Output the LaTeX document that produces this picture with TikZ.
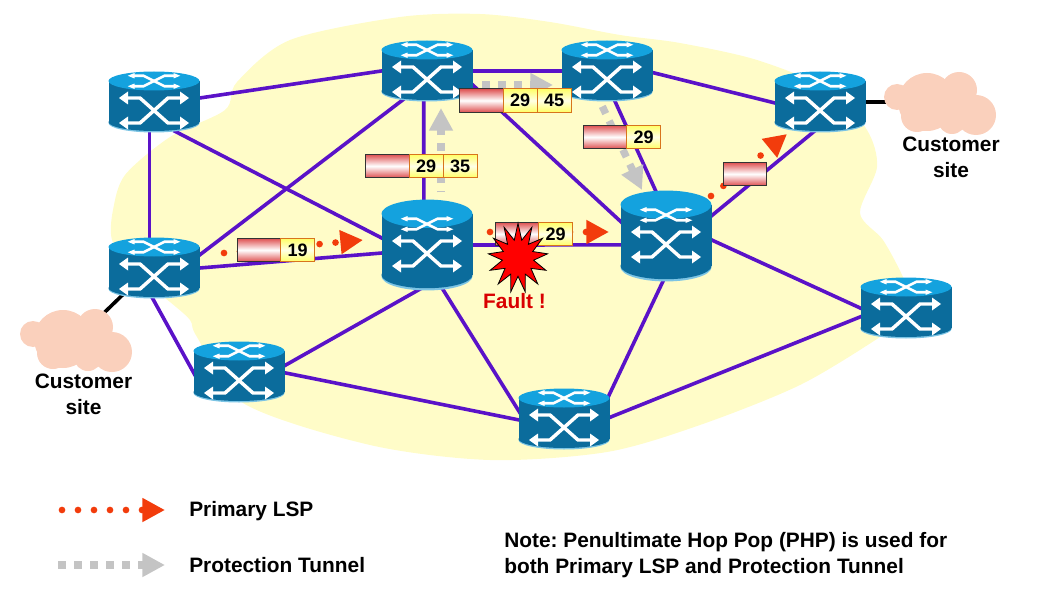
\documentclass[tikz,border=0pt]{standalone}
\usepackage{fontspec}
\setmainfont{Liberation Sans}
\usetikzlibrary{positioning, arrows.meta, shapes.geometric}

\definecolor{sitebg}{HTML}{FFFCC8}
\definecolor{linkpurple}{HTML}{5A12C8}
\definecolor{routerside}{HTML}{0B6C9C}
\definecolor{routertop}{HTML}{14A2DE}
\definecolor{routerrim}{HTML}{7CC4E4}
\definecolor{lspred}{HTML}{F23C0C}
\definecolor{tunnelgrey}{HTML}{C4C4C4}
\definecolor{cloudpink}{HTML}{FAD0BC}
\definecolor{labelred}{HTML}{DE5050}
\definecolor{labeledge}{HTML}{D8741C}

\tikzset{
    xglyph/.pic={
        \foreach \sx in {1,-1} {
            \begin{scope}[xscale=\sx]
                \draw[white] (-28,-12.5) -- (-14,-12.5) -- (14,12.5) -- (28,12.5);
                \fill[white] (-35,-12.5) -- (-26,-19) -- (-26,-6) -- cycle;
                \fill[white] (35,12.5) -- (26,6) -- (26,19) -- cycle;
            \end{scope}
        }
    },
    router/.pic={
        \fill[routerrim] (0,21) ellipse [x radius=45.5, y radius=9.5];
        \fill[routerside] (0,20) ellipse [x radius=45.5, y radius=9];
        \fill[routerside] (-45.5,-21) rectangle (45.5,20);
        \fill[routertop] (0,-21) ellipse [x radius=45.5, y radius=9.5];
        \pic[shift={(0,-21)}, xscale=.75, yscale=.42, line width=2pt] {xglyph};
        \pic[shift={(0,8.5)}, line width=2.6pt] {xglyph};
    },
    cloudblob/.pic={
        \fill[cloudpink] (-44,-5) circle (13) (-14,0) circle (29) (18,-12) circle (18)
            (35,13) circle (20) (11,18) circle (14) (-24,14) circle (16) (10,0) circle (20);
    }
}

\begin{document}
\begin{tikzpicture}[
    x=.75pt, y=-.75pt,
    font=\bfseries,
    routerbox/.style={rectangle, inner sep=0pt, minimum width=68.25pt, minimum height=46pt},
    routerbig/.style={routerbox, minimum height=68pt},
    cloudbox/.style={circle, inner sep=0pt, minimum size=10pt},
    link/.style={linkpurple, line width=2.7pt, shorten <=-4pt, shorten >=-4pt},
    sitelink/.style={black, line width=2.7pt, shorten <=-6pt},
    primary/.style={lspred, line width=5pt, line cap=round, dash pattern=on 0pt off 12pt, -{Triangle[length=17pt, width=17pt]}},
    tunnel/.style={tunnelgrey, line width=5.5pt, dash pattern=on 6pt off 6pt, -{Triangle[length=17pt, width=17pt]}},
    redbox/.style={rectangle, draw=black!80, line width=.8pt, inner sep=0pt, outer sep=0pt, minimum width=32.5pt, minimum height=17.5pt, top color=labelred, bottom color=labelred, middle color=white},
    yellowbox/.style={rectangle, draw=labeledge, line width=.8pt, inner sep=0pt, outer sep=0pt, minimum width=25.5pt, minimum height=17.5pt, top color=yellow!60, bottom color=yellow!60, middle color=yellow!10, font=\bfseries\fontsize{13.5}{15}\selectfont},
    caption/.style={font=\bfseries\fontsize{15.65}{19}\selectfont, inner sep=0pt}
]
\frenchspacing
\useasboundingbox (0,0) rectangle (1042,599);

% Background
\fill[sitebg] plot[smooth cycle, tension=.5] coordinates {
    (237,82) (290,40) (400,17) (480,14) (550,22) (620,35) (680,43) (757,60) (830,90)
    (867,130) (877,167) (860,213) (883,240) (903,277) (915,310) (880,337) (800,385) (700,425)
    (607,452) (490,460) (370,445) (243,403) (197,337) (190,320) (170,302) (130,270)
    (112,240) (113,210) (125,175) (170,137) (225,110)};

% Nodes
\node (RouterNW) [routerbox] at (154,102) {};
\node (RouterTopA) [routerbox] at (427,71) {};
\node (RouterTopB) [routerbox] at (607,71) {};
\node (RouterNE) [routerbox] at (820,102) {};
\node (RouterW) [routerbox] at (154,268) {};
\node (RouterMid) [routerbig] at (427,245) {};
\node (RouterEast) [routerbig] at (666,236) {};
\node (RouterE) [routerbox] at (906,308) {};
\node (RouterSW) [routerbox] at (239,372) {};
\node (RouterS) [routerbox] at (564,419) {};
\node (CloudW) [cloudbox] at (77,339) {};
\node (CloudE) [cloudbox] at (941,102) {};

% Links
\foreach \from/\to in {RouterNW.5/RouterTopA.180, RouterNW.-98/RouterW.98, RouterNW.-52.5/RouterMid.171,
    RouterW.16/RouterTopA.-131, RouterW.0/RouterMid.190, RouterW.-92/RouterSW.180,
    RouterTopA.0/RouterTopB.180, RouterTopA.-96/RouterMid.94, RouterTopA.-17/RouterEast.162.7,
    RouterTopB.-75.5/RouterEast.103.7, RouterTopB.-2.5/RouterNE.181, RouterNE.-104.5/RouterEast.24,
    RouterMid.0/RouterEast.191.3, RouterMid.-102.5/RouterSW.8.6, RouterMid.-70.4/RouterS.169,
    RouterEast.-94/RouterS.29, RouterEast.-5/RouterE.180, RouterE.191/RouterS.2.5, RouterSW.-1/RouterS.181}
    \draw [link] (\from) -- (\to);
\draw [sitelink] (RouterW.-139) -- (CloudW);
\draw [sitelink] (RouterNE.east) -- (CloudE);

% Tunnels and LSPs
\coordinate (TunnelUpA) at (441,192.5);
\coordinate (TunnelUpB) at (441,108);
\coordinate (TunnelTopA) at (482,85);
\coordinate (TunnelTopB) at (553,85);
\coordinate (TunnelDownA) at (602.3,106.4);
\coordinate (TunnelDownB) at (642,190);
\draw [tunnel, dash phase=5pt] (TunnelUpA) -- (TunnelUpB);
\draw [tunnel] (TunnelTopA) -- (TunnelTopB);
\draw [tunnel] (TunnelDownA) -- (TunnelDownB);

\coordinate (LspInA) at (224,253);
\coordinate (LspInB) at (363,240);
\coordinate (LspMidA) at (490,232);
\coordinate (LspMidB) at (609,232);
\coordinate (LspOutA) at (711,196);
\coordinate (LspOutB) at (787,134);
\draw [primary] (LspInA) -- (LspInB);
\draw [primary] (LspMidA) -- (LspMidB);
\draw [primary] (LspOutA) -- (LspOutB);

% Routers and clouds
\foreach \n/\s in {RouterNW/1, RouterTopA/1, RouterTopB/1, RouterNE/1, RouterW/1, RouterMid/1.49,
    RouterEast/1.49, RouterE/1, RouterSW/1, RouterS/1}
    \pic[yscale=\s] at (\n) {router};
\pic at (CloudW) {cloudblob};
\pic at (CloudE) {cloudblob};

% Labels
\node (LabelTopR) [redbox] at (481.5,100.5) {};
\node (LabelTopP) [yellowbox, right=0pt of LabelTopR] {29};
\node (LabelTopQ) [yellowbox, right=0pt of LabelTopP] {45};
\node (LabelUpR) [redbox] at (387.5,166) {};
\node (LabelUpP) [yellowbox, right=0pt of LabelUpR] {29};
\node (LabelUpQ) [yellowbox, right=0pt of LabelUpP] {35};
\node (LabelDownR) [redbox] at (605,137) {};
\node (LabelDownP) [yellowbox, right=0pt of LabelDownR] {29};
\node (LabelInR) [redbox] at (259,250) {};
\node (LabelInP) [yellowbox, right=0pt of LabelInR] {19};
\node (LabelMidR) [redbox] at (517,234) {};
\node (LabelMidP) [yellowbox, right=0pt of LabelMidR] {29};
\node (LabelOutR) [redbox] at (745,174) {};

\node (FaultStar) [star, star points=13, star point ratio=1.9, fill=red, draw=black, line width=.6pt, inner sep=0pt, minimum size=52pt, xscale=.86, transform shape] at (518,258) {};
\node (FaultText) [caption, text=red!85!black] at (514.5,301) {Fault !};

\node (SiteTextW) [caption, align=center] at (83.5,394) {Customer\\[.5pt]site};
\node (SiteTextE) [caption, align=center] at (951,157.5) {Customer\\[.5pt]site};

% Legend
\coordinate (KeyLspA) at (62,510);
\coordinate (KeyLspB) at (165,510);
\coordinate (KeyTunA) at (58,565);
\coordinate (KeyTunB) at (165,565);
\draw [primary] (KeyLspA) -- (KeyLspB);
\draw [tunnel] (KeyTunA) -- (KeyTunB);
\node (KeyLspText) [caption, anchor=west] at (189,511.5) {Primary LSP};
\node (KeyTunText) [caption, anchor=west] at (189,565) {Protection Tunnel};
\node (NoteText) [caption, anchor=west, align=left] at (504,555) {Note: Penultimate Hop Pop (PHP) is used for\\both Primary LSP and Protection Tunnel};

\end{tikzpicture}
\end{document}
